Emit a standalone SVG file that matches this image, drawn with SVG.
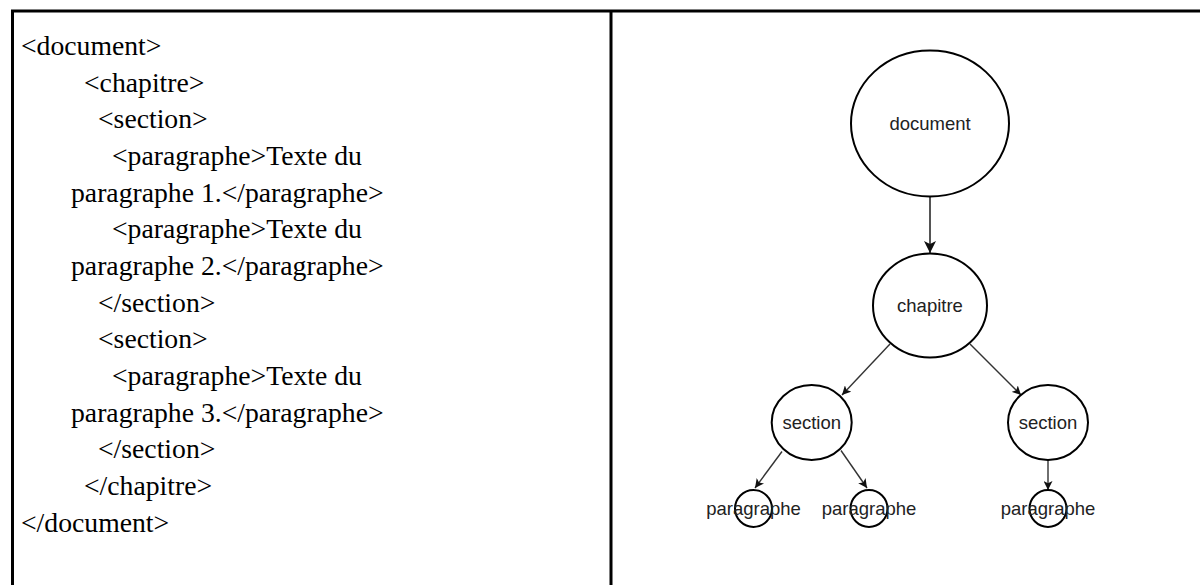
<svg xmlns="http://www.w3.org/2000/svg" width="1200" height="585" viewBox="0 0 1200 585">
<style>
.code{font-family:"Liberation Serif","Times New Roman",serif;font-size:27.7px;fill:#000}
.node ellipse{fill:#fff;stroke:#000;stroke-width:2}
.node text{font-family:"Liberation Sans",Arial,Helvetica,sans-serif;font-size:18.5px;fill:#222;text-anchor:middle}
.edge{stroke:#333;stroke-width:1.4;fill:none;marker-end:url(#arr)}
.border{stroke:#000;stroke-width:3;fill:none}
</style>
<defs>
<marker id="arr" viewBox="0 0 10 10" refX="10" refY="5" markerWidth="9" markerHeight="9" markerUnits="userSpaceOnUse" orient="auto">
<path d="M0,0 L10,5 L0,10 L2.5,5 Z" fill="#111"/>
</marker>
<marker id="arr2" viewBox="0 0 10 10" refX="10" refY="5" markerWidth="12" markerHeight="12" markerUnits="userSpaceOnUse" orient="auto">
<path d="M0,0 L10,5 L0,10 L2.5,5 Z" fill="#111"/>
</marker>
</defs>
<rect width="1200" height="585" fill="#fff"/>
<g id="table">
<line class="border" x1="11" y1="11" x2="1200" y2="11"/>
<line class="border" x1="12.5" y1="10" x2="12.5" y2="585"/>
<line class="border" x1="611" y1="10" x2="611" y2="585"/>
</g>
<g id="code">
<text class="code" x="21" y="55">&lt;document&gt;</text>
<text class="code" x="84" y="91.7">&lt;chapitre&gt;</text>
<text class="code" x="98" y="128.3">&lt;section&gt;</text>
<text class="code" x="112" y="165">&lt;paragraphe&gt;Texte du</text>
<text class="code" x="71" y="201.7">paragraphe 1.&lt;/paragraphe&gt;</text>
<text class="code" x="112" y="238.3">&lt;paragraphe&gt;Texte du</text>
<text class="code" x="71" y="275">paragraphe 2.&lt;/paragraphe&gt;</text>
<text class="code" x="98" y="311.7">&lt;/section&gt;</text>
<text class="code" x="98" y="348.3">&lt;section&gt;</text>
<text class="code" x="112" y="385">&lt;paragraphe&gt;Texte du</text>
<text class="code" x="71" y="421.7">paragraphe 3.&lt;/paragraphe&gt;</text>
<text class="code" x="98" y="458.3">&lt;/section&gt;</text>
<text class="code" x="84" y="495">&lt;/chapitre&gt;</text>
<text class="code" x="21" y="531.7">&lt;/document&gt;</text>
</g>
<g id="connectors">
<line x1="930" y1="197" x2="930" y2="253" stroke="#555" stroke-width="2" fill="none" marker-end="url(#arr2)"/>
<line class="edge" x1="890" y1="344" x2="842" y2="395"/>
<line class="edge" x1="970" y1="344" x2="1021" y2="395"/>
<line class="edge" x1="782" y1="451.5" x2="755" y2="488"/>
<line class="edge" x1="841" y1="450.5" x2="867" y2="488"/>
<line class="edge" x1="1048" y1="460" x2="1048" y2="490"/>
</g>
<g id="node-document" class="node">
<ellipse cx="930" cy="123.5" rx="79" ry="73"/>
<text x="930" y="130">document</text>
</g>
<g id="node-chapitre" class="node">
<ellipse cx="930" cy="305.5" rx="57" ry="52"/>
<text x="930" y="312">chapitre</text>
</g>
<g id="node-section-1" class="node">
<ellipse cx="811.7" cy="422.5" rx="40" ry="37.5"/>
<text x="811.7" y="429">section</text>
</g>
<g id="node-section-2" class="node">
<ellipse cx="1048" cy="422.5" rx="40" ry="37.5"/>
<text x="1048" y="429">section</text>
</g>
<g id="node-paragraphe-1" class="node">
<ellipse cx="753.5" cy="508.5" rx="18.5" ry="18.5" fill="none" style="fill:none"/>
<text x="753.5" y="515">paragraphe</text>
</g>
<g id="node-paragraphe-2" class="node">
<ellipse cx="869" cy="508.5" rx="18.5" ry="18.5" style="fill:none"/>
<text x="869" y="515">paragraphe</text>
</g>
<g id="node-paragraphe-3" class="node">
<ellipse cx="1048" cy="508.5" rx="18.5" ry="18.5" style="fill:none"/>
<text x="1048" y="515">paragraphe</text>
</g>
</svg>
